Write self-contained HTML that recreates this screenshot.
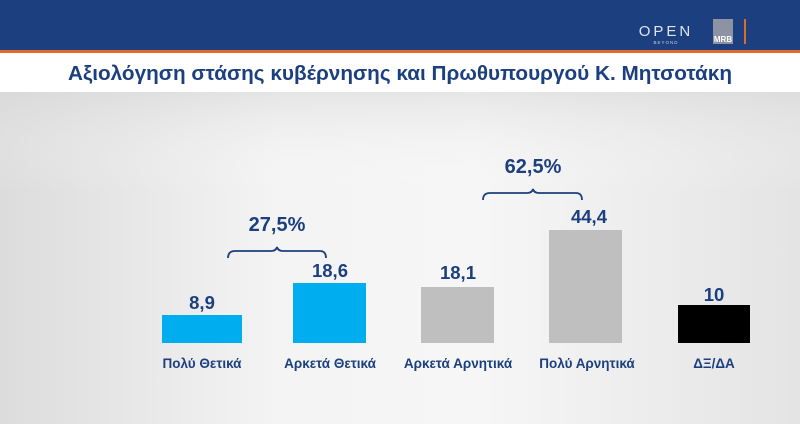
<!DOCTYPE html>
<html><head><meta charset="utf-8"><style>
html,body{margin:0;padding:0;width:800px;height:424px;overflow:hidden}
body{background:linear-gradient(90deg,#dcdcdc 0%,#f4f4f4 35%,#f6f6f6 60%,#e4e4e4 100%);font-family:"Liberation Sans","DejaVu Sans",sans-serif}
</style></head><body>
<svg width="800" height="424" viewBox="0 0 800 424" xmlns="http://www.w3.org/2000/svg" style="position:absolute;left:0;top:0">
<defs><linearGradient id="g" x1="0" y1="0" x2="0" y2="1"><stop offset="0" stop-color="#d6d6d6" stop-opacity="0.5"/><stop offset="0.3" stop-color="#fff" stop-opacity="0"/></linearGradient></defs>
<rect x="0" y="92" width="800" height="332" fill="url(#g)"/>
<rect x="0" y="0" width="800" height="50" fill="#1c3f7f"/>
<rect x="0" y="50" width="800" height="3" fill="#e06a2a"/>
<rect x="0" y="53" width="800" height="39" fill="#ffffff"/>
<text x="666" y="36" fill="#dfe5ef" font-size="15" letter-spacing="3" text-anchor="middle">OPEN</text>
<text x="666" y="44" fill="#c7cfdd" font-size="4.5" letter-spacing="1" text-anchor="middle">BEYOND</text>
<rect x="713" y="19" width="20" height="25" fill="#8d93a3"/>
<text x="723" y="42" fill="#fff" font-size="8" font-weight="bold" text-anchor="middle">MRB</text>
<rect x="744" y="19" width="2" height="25" fill="#e06a2a"/>
<text x="400" y="80" fill="#1c3f7f" font-size="20.5" font-weight="bold" text-anchor="middle" textLength="664" lengthAdjust="spacingAndGlyphs">Αξιολόγηση στάσης κυβέρνησης και Πρωθυπουργού Κ. Μητσοτάκη</text>
<g fill="#1c3f7f" font-weight="bold" text-anchor="middle">
<rect x="162" y="315" width="80" height="28" fill="#00aeef"/>
<rect x="293" y="283" width="73" height="60" fill="#00aeef"/>
<rect x="421" y="287" width="73" height="56" fill="#bfbfbf"/>
<rect x="549" y="230" width="73" height="113" fill="#bfbfbf"/>
<rect x="678" y="305" width="72" height="38" fill="#000"/>
<text x="202" y="309" font-size="18.5">8,9</text>
<text x="330" y="277" font-size="18.5">18,6</text>
<text x="458" y="279" font-size="18.5">18,1</text>
<text x="589" y="223" font-size="18.5">44,4</text>
<text x="714" y="301" font-size="18.5">10</text>
<text x="202" y="368" font-size="13.5">Πολύ Θετικά</text>
<text x="330" y="368" font-size="13.5">Αρκετά Θετικά</text>
<text x="458" y="368" font-size="13.5">Αρκετά Αρνητικά</text>
<text x="587" y="368" font-size="13.5">Πολύ Αρνητικά</text>
<text x="714" y="368" font-size="13.5">ΔΞ/ΔΑ</text>
<text x="277" y="231" font-size="20">27,5%</text>
<text x="533" y="173" font-size="20">62,5%</text>
</g>
<g fill="none" stroke="#1c3f7f" stroke-width="1.8">
<path d="M228 258 Q228 251 235 251 L271 251 Q276 251 277 247 Q278 251 283 251 L320 251 Q326 251 326 258"/>
<path d="M483 200 Q483 193 490 193 L527 193 Q532 193 533 189 Q534 193 539 193 L576 193 Q582 193 582 200"/>
</g>
</svg>
</body></html>
